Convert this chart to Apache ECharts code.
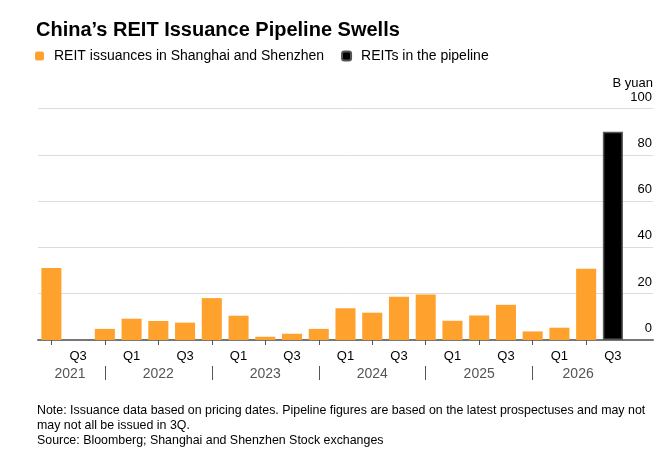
<!DOCTYPE html>
<html>
<head>
<meta charset="utf-8">
<script src="https://cdn.jsdelivr.net/npm/echarts@6/dist/echarts.min.js"></script>
<style>
html,body{margin:0;padding:0;background:#fff;}
#chart{width:668px;height:459px;}
</style>
</head>
<body>
<div id="chart"></div>
<script>
const quarters = ['Q2','Q3','Q4','Q1','Q2','Q3','Q4','Q1','Q2','Q3','Q4','Q1','Q2','Q3','Q4','Q1','Q2','Q3','Q4','Q1','Q2','Q3',''];
const years = ['2021','2022','2023','2024','2025','2026'];
const issuances = [31.1, 0, 4.8, 9.2, 8.2, 7.5, 18.1, 10.5, 1.4, 2.7, 4.8, 13.7, 11.8, 18.7, 19.7, 8.3, 10.6, 15.2, 3.7, 5.3, 30.8, '-', '-'];
const pipeline = ['-','-','-','-','-','-','-','-','-','-','-','-','-','-','-','-','-','-','-','-','-', 90, '-'];
const yTicks = [0, 20, 40, 60, 80, 100];

const FONT = '"Liberation Sans", Arial, Helvetica, sans-serif';
const yearLabelPos = [1.2, 4.5, 8.5, 12.5, 16.5, 20.2];
const yearSepPos = [2.5, 6.5, 10.5, 14.5, 18.5];

const chart = echarts.init(document.getElementById('chart'));
chart.setOption({
  animation: false,
  backgroundColor: '#fff',
  textStyle: { fontFamily: FONT },
  title: [
    {
      text: 'China\u2019s REIT Issuance Pipeline Swells',
      left: 31, top: 15,
      textStyle: { fontFamily: FONT, fontSize: 20, fontWeight: 'bold', color: '#000' }
    },
    {
      text: 'Note: Issuance data based on pricing dates. Pipeline figures are based on the latest prospectuses and may not\nmay not all be issued in 3Q.\nSource: Bloomberg; Shanghai and Shenzhen Stock exchanges',
      left: 32, top: 398,
      textStyle: { fontFamily: FONT, fontSize: 12.4, fontWeight: 'normal', color: '#000', lineHeight: 15 }
    },
    {
      text: 'B yuan',
      right: 10, top: 72,
      textStyle: { fontFamily: FONT, fontSize: 13, fontWeight: 'normal', color: '#000' }
    }
  ],
  legend: {
    left: 30, top: 44,
    itemWidth: 9, itemHeight: 9, itemGap: 17,
    icon: 'roundRect',
    textStyle: { fontFamily: FONT, fontSize: 14, color: '#000', padding: [0, 0, 0, 5] },
    data: ['REIT issuances in Shanghai and Shenzhen', 'REITs in the pipeline']
  },
  grid: { left: 38, right: 15, top: 108.5, bottom: 119 },
  xAxis: [
    {
      type: 'category',
      data: quarters,
      axisLine: { show: true, lineStyle: { color: '#777', width: 2 } },
      axisTick: {
        show: true, alignWithLabel: true, length: 5,
        lineStyle: { color: '#555', width: 1 },
        interval: function (i) { return quarters[i] === 'Q2' || quarters[i] === 'Q4'; }
      },
      axisLabel: {
        interval: function (i) { return quarters[i] === 'Q1' || quarters[i] === 'Q3'; },
        color: '#000', fontSize: 13, margin: 10, fontFamily: FONT
      },
      splitLine: { show: false }
    },
    {
      type: 'value',
      min: 0, max: 23,
      position: 'bottom',
      offset: 26,
      axisLine: { show: false },
      axisTick: {
        show: true, length: 14, inside: false,
        customValues: yearSepPos,
        lineStyle: { color: '#555', width: 1 }
      },
      axisLabel: {
        customValues: yearLabelPos,
        formatter: function (v) {
          const idx = yearLabelPos.indexOf(v);
          return idx >= 0 ? years[idx] : '';
        },
        color: '#555', fontSize: 14, margin: 1, fontFamily: FONT
      },
      splitLine: { show: false }
    }
  ],
  yAxis: {
    type: 'value',
    position: 'right',
    min: 0, max: 100, interval: 20,
    axisLine: { show: false },
    axisTick: { show: false },
    axisLabel: {
      inside: true, margin: 1, color: '#000', fontSize: 13, fontFamily: FONT,
      verticalAlign: 'bottom', padding: [0, 0, 5, 0],
      formatter: function (v) { return yTicks.indexOf(v) >= 0 ? String(v) : ''; }
    },
    splitLine: { show: true, lineStyle: { color: '#dcdcdc', width: 1 } }
  },
  series: [
    {
      name: 'REIT issuances in Shanghai and Shenzhen',
      type: 'bar',
      data: issuances,
      barCategoryGap: '25%',
      barGap: '-100%',
      itemStyle: { color: '#ffa22d' }
    },
    {
      name: 'REITs in the pipeline',
      type: 'bar',
      data: pipeline,
      barCategoryGap: '25%',
      barGap: '-100%',
      itemStyle: { color: '#000', borderColor: '#555', borderWidth: 1.5 }
    }
  ]
});
</script>
</body>
</html>
